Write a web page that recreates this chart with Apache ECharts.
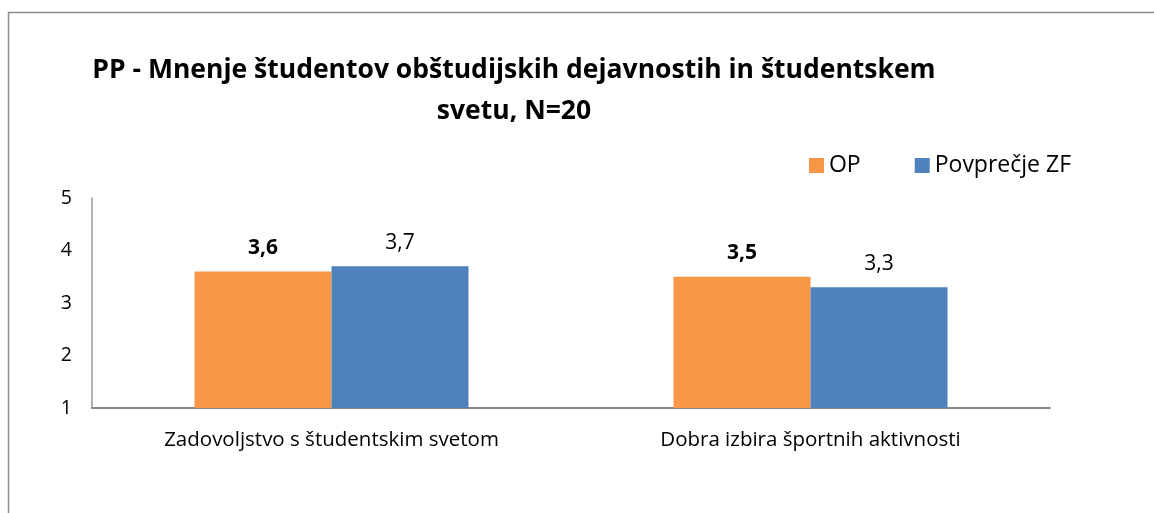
<!DOCTYPE html>
<html><head><meta charset="utf-8">
<script src="https://cdn.jsdelivr.net/npm/echarts@6/dist/echarts.min.js"></script>
<style>html,body{margin:0;padding:0;background:#fff}#c{width:1154px;height:513px}</style>
</head><body><div id="c"></div>
<script>
var categories = ['Zadovoljstvo s študentskim svetom', 'Dobra izbira športnih aktivnosti'];
var seriesNames = ['OP', 'Povprečje ZF'];
var opValues = [3.6, 3.5];
var zfValues = [3.7, 3.3];
var yTicks = [1, 2, 3, 4, 5];

var FONT = 'Open Sans';
var chart = echarts.init(document.getElementById('c'));
function fmt(p){ return String(p.value).replace('.', ','); }
chart.setOption({
  animation: false,
  textStyle: {fontFamily: FONT},
  graphic: [{
    type: 'rect', shape: {x: 8.5, y: 12.5, width: 1200, height: 600},
    style: {fill: 'none', stroke: '#8c8c8c', lineWidth: 1.5}, silent: true
  }],
  title: {
    text: 'PP - Mnenje študentov obštudijskih dejavnostih in študentskem\nsvetu, N=20',
    left: 509, top: 45, textAlign: 'center',
    textStyle: {fontFamily: FONT, fontWeight: 'bold', fontSize: 26.5, color: '#000', lineHeight: 41}
  },
  legend: {
    data: seriesNames, right: 78, top: 149, itemWidth: 15, itemHeight: 15, itemGap: 54,
    icon: 'rect',
    textStyle: {fontFamily: FONT, fontSize: 23, color: '#000', padding: [0,0,0,0]}
  },
  grid: {left: 92, right: 104, top: 198, bottom: 105},
  xAxis: {
    type: 'category', data: categories,
    axisLine: {lineStyle: {color: '#888', width: 2}},
    axisTick: {show: false},
    axisLabel: {fontFamily: FONT, fontSize: 20.5, color: '#000', margin: 22}
  },
  yAxis: {
    type: 'value', min: yTicks[0], max: yTicks[yTicks.length-1], interval: 1,
    axisLine: {show: true, lineStyle: {color: '#999', width: 1.5}},
    axisTick: {show: false}, splitLine: {show: false},
    axisLabel: {fontFamily: FONT, fontSize: 19.5, color: '#000', margin: 20}
  },
  series: [
    {name: seriesNames[0], type: 'bar', data: opValues, barWidth: 137, barGap: '0%',
     itemStyle: {color: '#F79646'},
     label: {show: true, position: 'top', distance: 13, formatter: fmt,
             fontFamily: FONT, fontSize: 21, fontWeight: 'bold', color: '#000'}},
    {name: seriesNames[1], type: 'bar', data: zfValues, barWidth: 137, barGap: '0%',
     itemStyle: {color: '#4F81BD'},
     label: {show: true, position: 'top', distance: 13, formatter: fmt,
             fontFamily: FONT, fontSize: 21, color: '#000'}}
  ]
});
</script></body></html>
